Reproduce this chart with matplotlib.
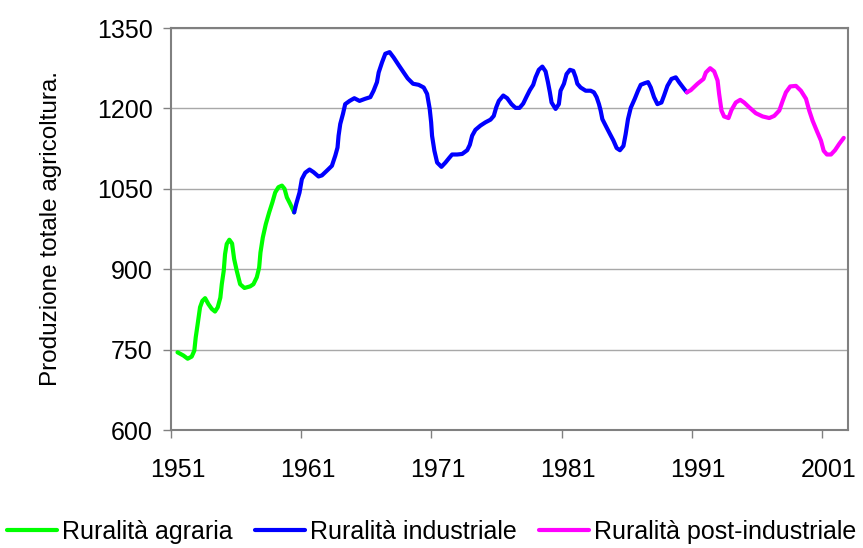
import numpy as np
import matplotlib.pyplot as plt

# production index, three phases of rurality
anni_agraria = [1951.00, 1951.45, 1951.78, 1952.09, 1952.29, 1952.40, 1952.55, 1952.73,
                1952.91, 1953.12, 1953.37, 1953.63, 1953.88, 1954.09, 1954.29, 1954.40,
                1954.55, 1954.65, 1954.78, 1954.98, 1955.19, 1955.35, 1955.55, 1955.81,
                1956.14, 1956.58, 1956.83, 1957.09, 1957.27, 1957.37, 1957.55, 1957.78,
                1958.04, 1958.29, 1958.50, 1958.75, 1959.02, 1959.22, 1959.40, 1959.65,
                1959.96]
prod_agraria = [745, 739, 733, 737, 748, 773, 798, 829,
                841, 846, 835, 826, 821, 829, 847, 872,
                897, 928, 947, 955, 948, 919, 897, 872,
                865, 868, 872, 885, 903, 931, 959, 984,
                1006, 1025, 1043, 1053, 1056, 1050, 1034, 1022,
                1006]

anni_industriale = [1959.96, 1960.12, 1960.37, 1960.55, 1960.81, 1961.14, 1961.45, 1961.83,
                    1962.09, 1962.48, 1962.86, 1963.12, 1963.29, 1963.37, 1963.50, 1963.71,
                    1963.88, 1964.22, 1964.58, 1964.98, 1965.42, 1965.81, 1966.06, 1966.32,
                    1966.45, 1966.71, 1966.96, 1967.29, 1967.60, 1967.98, 1968.37, 1968.68,
                    1969.09, 1969.52, 1969.91, 1970.17, 1970.37, 1970.48, 1970.55, 1970.73,
                    1970.94, 1971.27, 1971.58, 1971.88, 1972.09, 1972.48, 1972.86, 1973.25,
                    1973.45, 1973.63, 1973.88, 1974.27, 1974.65, 1975.04, 1975.29, 1975.48,
                    1975.68, 1976.02, 1976.32, 1976.65, 1976.96, 1977.27, 1977.55, 1977.81,
                    1978.06, 1978.32, 1978.50, 1978.75, 1979.02, 1979.27, 1979.45, 1979.60,
                    1979.73, 1980.04, 1980.29, 1980.42, 1980.68, 1980.88, 1981.14, 1981.40,
                    1981.58, 1981.71, 1981.96, 1982.35, 1982.73, 1982.98, 1983.19, 1983.37,
                    1983.50, 1983.63, 1983.88, 1984.22, 1984.48, 1984.73, 1984.98, 1985.25,
                    1985.42, 1985.60, 1985.81, 1986.12, 1986.37, 1986.58, 1986.88, 1987.14,
                    1987.35, 1987.60, 1987.86, 1988.17, 1988.37, 1988.63, 1988.94, 1989.27,
                    1989.52, 1989.86, 1990.12]
prod_industriale = [1006, 1022, 1043, 1068, 1080, 1086, 1081, 1073,
                    1075, 1084, 1093, 1112, 1127, 1149, 1171, 1190,
                    1208, 1214, 1219, 1214, 1218, 1221, 1233, 1249,
                    1267, 1286, 1302, 1305, 1295, 1281, 1267, 1256,
                    1246, 1244, 1239, 1227, 1199, 1174, 1149, 1121,
                    1099, 1091, 1099, 1108, 1114, 1114, 1115, 1122,
                    1132, 1149, 1160, 1168, 1174, 1179, 1186, 1202,
                    1214, 1224, 1219, 1208, 1201, 1201, 1209, 1222,
                    1234, 1244, 1258, 1272, 1278, 1269, 1249, 1230,
                    1211, 1199, 1208, 1233, 1246, 1264, 1272, 1270,
                    1258, 1246, 1239, 1233, 1233, 1230, 1221, 1208,
                    1196, 1180, 1168, 1152, 1140, 1126, 1122, 1130,
                    1152, 1180, 1201, 1218, 1233, 1244, 1247, 1249,
                    1239, 1221, 1208, 1211, 1224, 1242, 1255, 1258,
                    1249, 1238, 1230]

anni_post = [1990.12, 1990.42, 1990.94, 1991.40, 1991.58, 1991.91, 1992.22, 1992.48,
             1992.60, 1992.78, 1992.98, 1993.32, 1993.55, 1993.88, 1994.22, 1994.52,
             1994.91, 1995.42, 1995.94, 1996.45, 1996.83, 1997.22, 1997.48, 1997.73,
             1998.06, 1998.50, 1998.88, 1999.27, 1999.52, 1999.78, 2000.12, 2000.42,
             2000.63, 2000.88, 2001.19, 2001.50, 2001.83, 2002.17]
prod_post = [1230, 1234, 1246, 1255, 1267, 1275, 1269, 1252,
             1227, 1196, 1185, 1182, 1197, 1211, 1216, 1211,
             1202, 1191, 1185, 1182, 1186, 1196, 1214, 1230,
             1241, 1242, 1233, 1218, 1196, 1177, 1157, 1140,
             1121, 1114, 1114, 1122, 1134, 1145]

x_labels = [1951, 1961, 1971, 1981, 1991, 2001]
y_ticks = [600, 750, 900, 1050, 1200, 1350]

plt.rcParams["font.family"] = ["Liberation Sans", "DejaVu Sans"]

fig = plt.figure(figsize=(8.63, 5.48), dpi=100)
ax = fig.add_axes([0.19815, 0.2153, 0.7845, 0.7336])

kw = dict(lw=3, solid_capstyle="round", solid_joinstyle="round")
ax.plot(anni_agraria, prod_agraria, color="#00FF00", label="Ruralità agraria", **kw)
ax.plot(anni_industriale, prod_industriale, color="#0000FF", label="Ruralità industriale", **kw)
ax.plot(anni_post, prod_post, color="#FF00FF", label="Ruralità post-industriale", **kw)

# category axis: labels centred on the year, tick marks on the boundaries
ax.set_xlim(1950.5, 2002.5)
ax.set_ylim(600, 1350)
ax.set_xticks(x_labels)
ax.set_xticks([y - 0.5 for y in x_labels], minor=True)
ax.set_yticks(y_ticks)
ax.yaxis.grid(True, color="#A8A8A8", lw=1)
ax.set_axisbelow(True)
for s in ax.spines.values():
    s.set_color("#808080")
    s.set_linewidth(1.5)
ax.tick_params(axis="y", direction="out", length=6, width=1, color="#808080",
               labelsize=18, pad=7)
ax.tick_params(axis="x", which="major", length=0, labelsize=18, pad=20)
ax.tick_params(axis="x", which="minor", direction="out", length=6, width=1,
               color="#808080")

fig.text(51 / 863, 1 - 228 / 548, "Produzione totale agricoltura.", fontsize=17.5,
         rotation=90, ha="center", va="center")

fig.legend(loc="center", ncol=3, frameon=False, fontsize=18,
           bbox_to_anchor=(0.5, 1 - 532 / 548), handlelength=2.0, handletextpad=0.2,
           columnspacing=0.9, borderaxespad=0, borderpad=0)

fig.savefig("out.png", dpi=100)
